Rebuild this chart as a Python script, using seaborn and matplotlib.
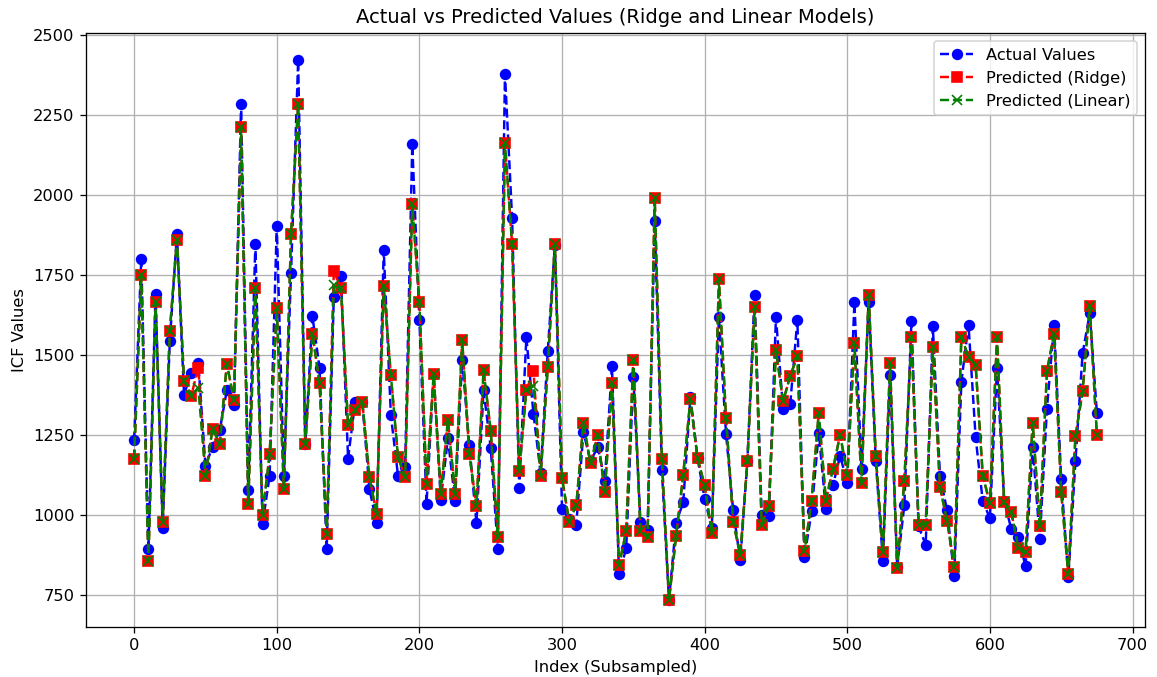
import matplotlib
matplotlib.use("Agg")
import matplotlib.pyplot as plt
import seaborn as sns
import numpy as np

index = list(range(0, 680, 5))

actual = [1234, 1802, 893, 1693, 960, 1544, 1880, 1376, 1446, 1477,
          1154, 1214, 1265, 1391, 1344, 2287, 1078, 1848, 973, 1123,
          1905, 1122, 1758, 2423, 1222, 1622, 1461, 893, 1683, 1747,
          1177, 1355, 1353, 1081, 977, 1828, 1313, 1124, 1150, 2160,
          1611, 1035, 1440, 1049, 1240, 1044, 1486, 1220, 975, 1391,
          1211, 893, 2380, 1929, 1086, 1556, 1316, 1133, 1512, 1845,
          1020, 988, 971, 1260, 1168, 1214, 1108, 1465, 817, 896,
          1431, 979, 954, 1920, 1141, 735, 977, 1040, 1370, 1179,
          1052, 960, 1619, 1255, 1015, 859, 1171, 1688, 1002, 998,
          1619, 1332, 1347, 1611, 870, 1012, 1258, 1020, 1095, 1185,
          1102, 1666, 1145, 1668, 1168, 858, 1438, 838, 1031, 1608,
          965, 907, 1590, 1122, 1015, 809, 1417, 1596, 1243, 1044,
          991, 1461, 1044, 957, 931, 840, 1212, 925, 1333, 1596,
          1112, 806, 1171, 1506, 1631, 1321]

ridge = [1177, 1750, 856, 1667, 980, 1575, 1861, 1421, 1373, 1461,
         1124, 1271, 1223, 1474, 1359, 2213, 1034, 1710, 1002, 1190,
         1648, 1081, 1880, 2285, 1222, 1567, 1414, 940, 1762, 1711,
         1281, 1330, 1353, 1119, 1003, 1718, 1438, 1182, 1119, 1972,
         1666, 1097, 1440, 1066, 1299, 1067, 1548, 1191, 1029, 1454,
         1264, 933, 2163, 1847, 1139, 1391, 1451, 1124, 1463, 1848,
         1116, 980, 1031, 1287, 1162, 1251, 1072, 1413, 844, 951,
         1486, 951, 931, 1993, 1177, 735, 936, 1127, 1362, 1179,
         1093, 946, 1737, 1303, 980, 875, 1171, 1652, 971, 1029,
         1515, 1356, 1435, 1498, 887, 1046, 1321, 1046, 1145, 1252,
         1127, 1538, 1102, 1688, 1185, 884, 1475, 836, 1107, 1558,
         971, 971, 1527, 1087, 983, 838, 1558, 1495, 1469, 1124,
         1037, 1556, 1040, 1009, 898, 884, 1289, 965, 1451, 1567,
         1072, 815, 1247, 1388, 1654, 1251]

linear = [1177, 1750, 856, 1667, 980, 1575, 1861, 1421, 1373, 1399,
          1124, 1271, 1223, 1474, 1359, 2213, 1034, 1710, 1002, 1190,
          1648, 1081, 1880, 2285, 1222, 1567, 1414, 940, 1720, 1711,
          1281, 1330, 1353, 1119, 1003, 1718, 1438, 1182, 1119, 1972,
          1666, 1097, 1440, 1066, 1299, 1067, 1548, 1191, 1029, 1454,
          1264, 933, 2163, 1847, 1139, 1391, 1403, 1124, 1463, 1848,
          1116, 980, 1031, 1287, 1162, 1251, 1072, 1413, 844, 951,
          1486, 951, 931, 1993, 1177, 735, 936, 1127, 1362, 1179,
          1093, 946, 1737, 1303, 980, 875, 1171, 1652, 971, 1029,
          1515, 1356, 1435, 1498, 887, 1046, 1321, 1046, 1145, 1252,
          1127, 1538, 1102, 1688, 1185, 884, 1475, 836, 1107, 1558,
          971, 971, 1527, 1087, 983, 838, 1558, 1495, 1469, 1124,
          1037, 1556, 1040, 1009, 898, 884, 1289, 965, 1451, 1567,
          1072, 815, 1247, 1388, 1654, 1251]

DPI = 117
fig = plt.figure(figsize=(1157 / DPI, 677 / DPI), dpi=DPI)
ax = fig.add_axes([86/1157, 1 - 627/677, (1145 - 86)/1157, (627 - 33)/677])

sns.lineplot(x=index, y=actual, ax=ax, color="blue", marker="o", linestyle="--",
             markeredgecolor="blue", markeredgewidth=1, markersize=6,
             label="Actual Values", sort=False)
sns.lineplot(x=index, y=ridge, ax=ax, color="red", marker="s", linestyle="--",
             markeredgecolor="red", markeredgewidth=1, markersize=6,
             label="Predicted (Ridge)", sort=False)
sns.lineplot(x=index, y=linear, ax=ax, color="green", marker="x", linestyle="--",
             markeredgecolor="green", markeredgewidth=1, markersize=6,
             label="Predicted (Linear)", sort=False)

ax.set_title("Actual vs Predicted Values (Ridge and Linear Models)", fontsize=12)
ax.set_xlabel("Index (Subsampled)", fontsize=10)
ax.set_ylabel("ICF Values", fontsize=10)
ax.grid(True, color="#b0b0b0", linewidth=0.8)
ax.set_axisbelow(True)
ax.legend(loc="upper right", fontsize=10)

fig.savefig("out.png", dpi=DPI)
